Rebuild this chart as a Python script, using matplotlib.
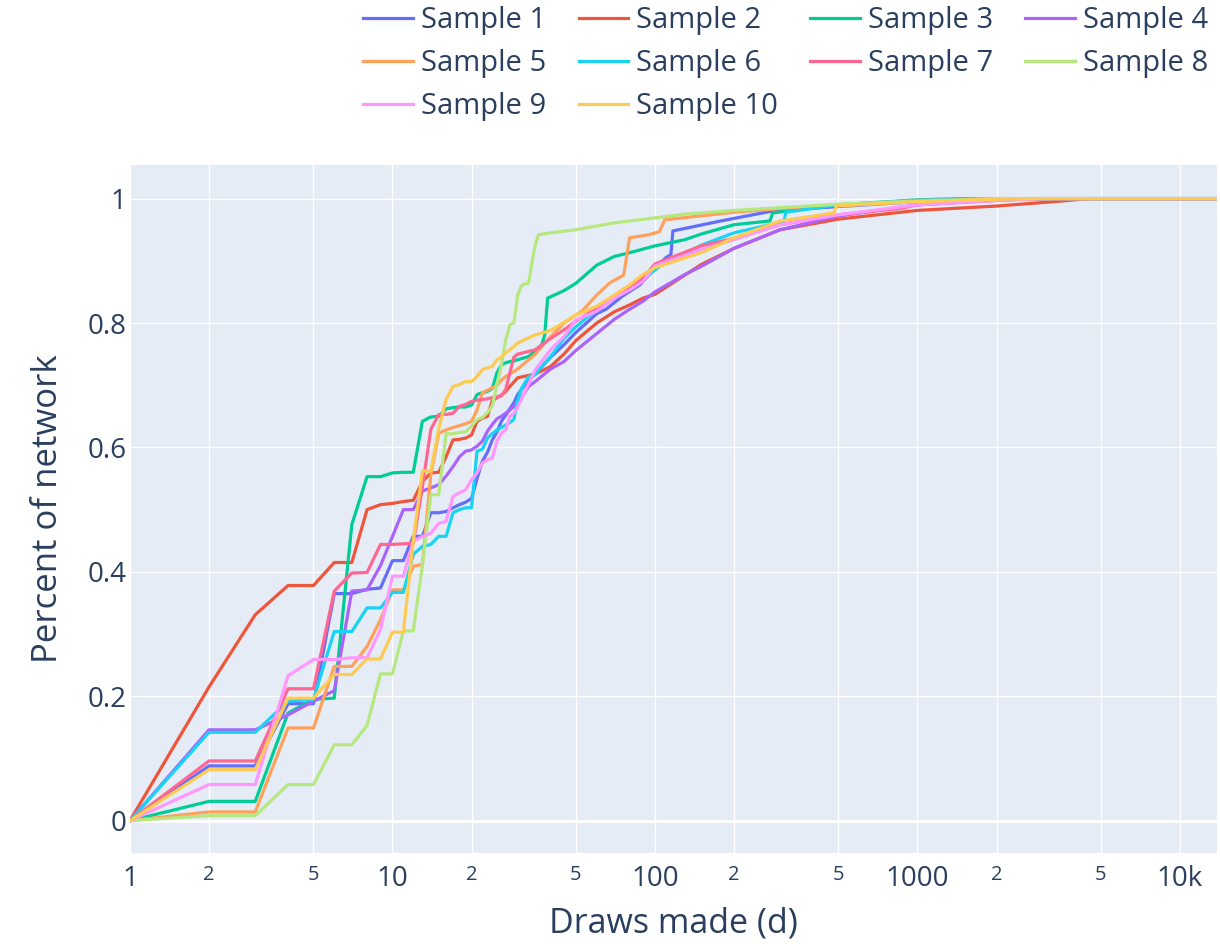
import matplotlib
matplotlib.use("Agg")
import matplotlib.pyplot as plt
from matplotlib.ticker import FixedLocator

plt.rcParams['font.family'] = ['Open Sans', 'DejaVu Sans']

# draws made (d) for the first 30 points, shared by every sample
D_EARLY = list(range(1, 31))

s1_early = [0, .088, .088, .188, .188, .365, .365, .372, .374, .418, .418, .457, .457, .495, .495,
            .497, .503, .508, .512, .518, .55, .578, .592, .612, .625, .642, .652, .662, .672, .685]
s1_tail_d = [33, 35, 40, 45, 50, 60, 65, 75, 88, 95, 110, 115, 117, 130, 178, 280, 490, 1000, 2000, 4000, 13836]
s1_tail_v = [.709, .718, .745, .765, .785, .815, .822, .843, .862, .878, .905, .91, .948, .952, .964, .98, .987,
             .995, .999, 1, 1]

s2_early = [0, .215, .331, .378, .378, .415, .415, .50, .508, .51, .513, .515, .545, .559, .56,
            .585, .612, .613, .615, .62, .642, .647, .65, .675, .68, .684, .69, .698, .705, .712]
s2_tail_d = [35, 40, 45, 50, 60, 70, 80, 90, 100, 150, 200, 300, 500, 860, 1000, 2000, 3300, 4500, 13836]
s2_tail_v = [.718, .73, .75, .772, .80, .818, .829, .84, .846, .894, .92, .95, .967, .978, .981, .988, .995, 1, 1]

s3_early = [0, .031, .031, .173, .195, .197, .476, .553, .553, .559, .56, .56, .642, .649, .65,
            .662, .664, .665, .665, .668, .685, .688, .69, .695, .72, .733, .736, .738, .739, .741]
s3_tail_d = [33, 37, 38, 39, 45, 50, 60, 70, 80, 100, 130, 150, 200, 274, 281, 500, 1000, 1500, 13836]
s3_tail_v = [.746, .765, .78, .84, .852, .864, .893, .907, .913, .924, .934, .943, .958, .964, .977, .99, .998, 1, 1]

s4_early = [0, .146, .146, .17, .192, .209, .369, .371, .41, .457, .50, .50, .53, .535, .54,
            .554, .569, .585, .594, .596, .602, .61, .626, .637, .646, .65, .655, .66, .666, .671]
s4_tail_d = [33, 35, 40, 45, 50, 60, 70, 80, 90, 100, 130, 150, 200, 300, 500, 1000, 2000, 3000, 13836]
s4_tail_v = [.698, .706, .726, .738, .756, .783, .806, .822, .835, .85, .878, .891, .92, .95, .972, .99, .998, 1, 1]

s5_early = [0, .014, .014, .149, .149, .248, .248, .28, .323, .371, .371, .409, .412, .556, .623,
            .628, .632, .635, .638, .642, .66, .688, .692, .696, .70, .708, .714, .718, .722, .726]
s5_tail_d = [35, 39, 45, 53, 60, 67, 76, 80, 95, 104, 109, 148, 200, 300, 500, 1000, 2000, 13836]
s5_tail_v = [.75, .773, .80, .82, .845, .864, .877, .937, .942, .947, .966, .972, .978, .984, .99, .997, 1, 1]

s6_early = [0, .142, .142, .192, .195, .304, .304, .342, .342, .367, .367, .428, .441, .444, .457,
            .457, .495, .50, .503, .503, .594, .597, .615, .622, .628, .632, .636, .64, .645, .676]
s6_tail_d = [31, 33, 35, 37, 40, 45, 50, 60, 70, 80, 100, 110, 130, 150, 200, 310, 315, 500, 1000, 2000, 13836]
s6_tail_v = [.695, .714, .717, .73, .746, .775, .794, .822, .842, .855, .885, .9, .912, .925, .945, .963, .978,
             .99, .997, 1, 1]

s7_early = [0, .096, .096, .212, .212, .369, .398, .399, .444, .444, .445, .446, .537, .629, .653,
            .653, .655, .666, .669, .674, .676, .677, .678, .68, .681, .683, .693, .72, .745, .75]
s7_tail_d = [35, 40, 45, 50, 60, 70, 80, 90, 100, 150, 200, 300, 500, 860, 1000, 2000, 3000, 13836]
s7_tail_v = [.757, .775, .789, .803, .824, .84, .856, .872, .895, .924, .936, .958, .974, .984, .99, .997, 1, 1]

s8_early = [0, .008, .008, .058, .058, .122, .122, .153, .236, .236, .305, .305, .41, .524, .524,
            .622, .622, .624, .625, .634, .645, .648, .656, .667, .701, .733, .773, .797, .80, .845]
s8_tail_d = [31, 32, 33, 34, 35, 36, 40, 50, 60, 70, 80, 100, 130, 200, 500, 1000, 2000, 13836]
s8_tail_v = [.86, .863, .864, .897, .926, .942, .945, .95, .956, .961, .964, .969, .975, .981, .991, .996, 1, 1]

s9_early = [0, .058, .058, .233, .259, .259, .262, .262, .307, .393, .393, .449, .457, .462, .478,
            .481, .521, .527, .532, .548, .559, .575, .58, .583, .61, .623, .628, .65, .655, .665]
s9_tail_d = [35, 40, 45, 50, 60, 70, 80, 90, 100, 150, 200, 300, 500, 1000, 2000, 3000, 13836]
s9_tail_v = [.725, .757, .778, .805, .819, .84, .853, .867, .892, .918, .934, .958, .974, .99, .997, 1, 1]

s10_early = [0, .082, .082, .197, .197, .235, .235, .26, .26, .303, .303, .45, .562, .562, .63,
             .677, .698, .701, .706, .706, .714, .725, .728, .73, .741, .745, .752, .757, .762, .768]
s10_tail_d = [35, 40, 45, 50, 60, 70, 80, 90, 100, 150, 200, 300, 480, 490, 1000, 2000, 3000, 13836]
s10_tail_v = [.781, .788, .801, .813, .827, .845, .861, .878, .889, .913, .937, .964, .977, .988, .995, .999, 1, 1]

samples = [
    ('Sample 1', s1_early, s1_tail_d, s1_tail_v),
    ('Sample 2', s2_early, s2_tail_d, s2_tail_v),
    ('Sample 3', s3_early, s3_tail_d, s3_tail_v),
    ('Sample 4', s4_early, s4_tail_d, s4_tail_v),
    ('Sample 5', s5_early, s5_tail_d, s5_tail_v),
    ('Sample 6', s6_early, s6_tail_d, s6_tail_v),
    ('Sample 7', s7_early, s7_tail_d, s7_tail_v),
    ('Sample 8', s8_early, s8_tail_d, s8_tail_v),
    ('Sample 9', s9_early, s9_tail_d, s9_tail_v),
    ('Sample 10', s10_early, s10_tail_d, s10_tail_v),
]

colors = ['#636EFA', '#EF553B', '#00CC96', '#AB63FA', '#FFA15A',
          '#19D3F3', '#FF6692', '#B6E880', '#FF97FF', '#FECB52']

major_ticks = [1, 10, 100, 1000, 10000]
major_labels = ['1', '10', '100', '1000', '10k']
minor_ticks = [2, 5, 20, 50, 200, 500, 2000, 5000]
minor_labels = ['2', '5'] * 4

text_color = '#2a3f5f'

fig = plt.figure(figsize=(12.2, 9.44), dpi=100)
ax = fig.add_axes([130 / 1220, 1 - 853 / 944, 1087 / 1220, 688 / 944])
ax.set_facecolor('#E5ECF6')

handles = []
for (name, early, tail_d, tail_v), col in zip(samples, colors):
    h, = ax.plot(D_EARLY + tail_d, early + tail_v, color=col, lw=2.3, label=name,
                 solid_joinstyle='round', zorder=3)
    handles.append(h)

ax.set_xscale('log')
ax.set_xlim(1, 13836)
ax.set_ylim(-0.052, 1.054)

ax.xaxis.set_major_locator(FixedLocator(major_ticks))
ax.xaxis.set_minor_locator(FixedLocator(minor_ticks))
ax.set_xticks(major_ticks, major_labels)
ax.set_xticks(minor_ticks, minor_labels, minor=True)
ax.set_yticks([0, 0.2, 0.4, 0.6, 0.8, 1.0], ['0', '0.2', '0.4', '0.6', '0.8', '1'])

ax.tick_params(axis='both', which='both', length=0, colors=text_color)
ax.tick_params(axis='x', which='major', labelsize=20, pad=9)
ax.tick_params(axis='x', which='minor', labelsize=14.5, pad=9)
ax.tick_params(axis='y', labelsize=20, pad=2.5)

ax.grid(True, which='both', color='white', lw=1.0, zorder=0)
ax.axhline(0, color='white', lw=2.2, zorder=1)
ax.set_axisbelow(True)
for sp in ax.spines.values():
    sp.set_visible(False)

ax.set_xlabel('Draws made (d)', fontsize=24.5, color=text_color, labelpad=9)
ax.set_ylabel('Percent of network', fontsize=25, color=text_color, labelpad=16)

# plotly style legend: rows filled left to right
order = [0, 4, 8, 1, 5, 9, 2, 6, 3, 7]
fig.legend([handles[i] for i in order], [samples[i][0] for i in order],
           loc='upper right', bbox_to_anchor=(1.0, 1.0055), ncol=4, frameon=False,
           fontsize=21, labelcolor=text_color, handlelength=1.71, handletextpad=0.27,
           columnspacing=1.1, labelspacing=0.47, borderaxespad=0)

fig.savefig('out.png', dpi=100)
